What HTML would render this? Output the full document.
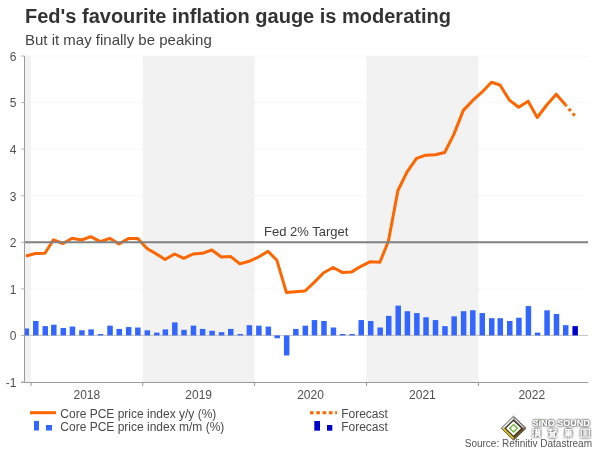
<!DOCTYPE html>
<html><head><meta charset="utf-8"><style>
html,body{margin:0;padding:0;background:#fff;}
.wrap{position:absolute;left:0;top:0;width:600px;height:450px;will-change:transform;}
body{width:600px;height:450px;overflow:hidden;position:relative;font-family:"Liberation Sans",sans-serif;}
.t{position:absolute;left:25px;top:5px;font-weight:bold;font-size:20px;color:#333;white-space:nowrap;}
.s{position:absolute;left:25px;top:31px;font-size:15px;color:#444;white-space:nowrap;}
svg{position:absolute;left:0;top:0;}
</style></head><body>
<div class="wrap">
<div class="t">Fed's favourite inflation gauge is moderating</div>
<div class="s">But it may finally be peaking</div>
<svg width="600" height="450" viewBox="0 0 600 450" font-family="Liberation Sans, sans-serif">
<defs><filter id="sh" x="-20%" y="-50%" width="140%" height="200%"><feGaussianBlur in="SourceAlpha" stdDeviation="0.9" result="b"/><feOffset in="b" dx="0.3" dy="0.4" result="o"/><feFlood flood-color="#3a3a3a" flood-opacity="1"/><feComposite in2="o" operator="in"/><feMerge><feMergeNode/><feMergeNode/><feMergeNode in="SourceGraphic"/></feMerge></filter></defs>
<rect x="25" y="56" width="6" height="326" fill="#f2f2f2"/>
<rect x="142.7" y="56" width="111.9" height="326" fill="#f2f2f2"/>
<rect x="366.5" y="56" width="111.9" height="326" fill="#f2f2f2"/>
<line x1="25" y1="56.00" x2="588" y2="56.00" stroke="#f0f0f0" stroke-width="1" stroke-dasharray="1 1"/><line x1="25" y1="102.57" x2="588" y2="102.57" stroke="#f0f0f0" stroke-width="1" stroke-dasharray="1 1"/><line x1="25" y1="149.14" x2="588" y2="149.14" stroke="#f0f0f0" stroke-width="1" stroke-dasharray="1 1"/><line x1="25" y1="195.71" x2="588" y2="195.71" stroke="#f0f0f0" stroke-width="1" stroke-dasharray="1 1"/><line x1="25" y1="288.86" x2="588" y2="288.86" stroke="#f0f0f0" stroke-width="1" stroke-dasharray="1 1"/>
<line x1="21" y1="335.43" x2="588" y2="335.43" stroke="#c8c4bc" stroke-width="1"/>
<g fill="#3366FF"><rect x="25.00" y="328.44" width="4.05" height="6.99"/><rect x="33.03" y="320.99" width="5.50" height="14.44"/><rect x="42.50" y="326.11" width="5.50" height="9.31"/><rect x="51.06" y="324.71" width="5.50" height="10.71"/><rect x="60.53" y="327.97" width="5.50" height="7.45"/><rect x="69.70" y="326.58" width="5.50" height="8.85"/><rect x="79.17" y="330.30" width="5.50" height="5.12"/><rect x="88.34" y="329.37" width="5.50" height="6.05"/><rect x="97.81" y="334.03" width="5.50" height="1.40"/><rect x="107.29" y="325.65" width="5.50" height="9.78"/><rect x="116.46" y="328.91" width="5.50" height="6.52"/><rect x="125.93" y="327.04" width="5.50" height="8.38"/><rect x="135.10" y="327.51" width="5.50" height="7.92"/><rect x="144.57" y="330.30" width="5.50" height="5.12"/><rect x="154.04" y="332.63" width="5.50" height="2.79"/><rect x="162.60" y="329.37" width="5.50" height="6.05"/><rect x="172.08" y="322.39" width="5.50" height="13.04"/><rect x="181.24" y="329.84" width="5.50" height="5.59"/><rect x="190.72" y="325.65" width="5.50" height="9.78"/><rect x="199.88" y="328.91" width="5.50" height="6.52"/><rect x="209.36" y="330.77" width="5.50" height="4.66"/><rect x="218.83" y="332.17" width="5.50" height="3.26"/><rect x="228.00" y="328.91" width="5.50" height="6.52"/><rect x="237.47" y="334.03" width="5.50" height="1.40"/><rect x="246.64" y="325.18" width="5.50" height="10.25"/><rect x="256.12" y="325.65" width="5.50" height="9.78"/><rect x="265.59" y="326.58" width="5.50" height="8.85"/><rect x="274.45" y="335.43" width="5.50" height="2.79"/><rect x="283.92" y="335.43" width="5.50" height="20.03"/><rect x="293.09" y="328.91" width="5.50" height="6.52"/><rect x="302.57" y="325.65" width="5.50" height="9.78"/><rect x="311.73" y="320.06" width="5.50" height="15.37"/><rect x="321.21" y="320.99" width="5.50" height="14.44"/><rect x="330.68" y="327.51" width="5.50" height="7.92"/><rect x="339.85" y="334.03" width="5.50" height="1.40"/><rect x="349.32" y="334.03" width="5.50" height="1.40"/><rect x="358.49" y="320.06" width="5.50" height="15.37"/><rect x="367.96" y="320.99" width="5.50" height="14.44"/><rect x="377.44" y="327.51" width="5.50" height="7.92"/><rect x="385.99" y="315.87" width="5.50" height="19.56"/><rect x="395.47" y="305.62" width="5.50" height="29.81"/><rect x="404.64" y="311.21" width="5.50" height="24.22"/><rect x="414.11" y="313.07" width="5.50" height="22.35"/><rect x="423.28" y="317.26" width="5.50" height="18.16"/><rect x="432.75" y="320.06" width="5.50" height="15.37"/><rect x="442.23" y="326.11" width="5.50" height="9.31"/><rect x="451.39" y="316.33" width="5.50" height="19.09"/><rect x="460.87" y="311.21" width="5.50" height="24.22"/><rect x="470.03" y="310.28" width="5.50" height="25.15"/><rect x="479.51" y="313.07" width="5.50" height="22.35"/><rect x="488.98" y="318.19" width="5.50" height="17.23"/><rect x="497.54" y="318.19" width="5.50" height="17.23"/><rect x="507.01" y="320.99" width="5.50" height="14.44"/><rect x="516.18" y="317.73" width="5.50" height="17.70"/><rect x="525.65" y="306.09" width="5.50" height="29.34"/><rect x="534.82" y="332.63" width="5.50" height="2.79"/><rect x="544.30" y="310.28" width="5.50" height="25.15"/><rect x="553.77" y="314.00" width="5.50" height="21.42"/><rect x="562.94" y="325.18" width="5.50" height="10.25"/></g>
<rect x="572.41" y="326.11" width="5.5" height="9.31" fill="#0000CC"/>
<path d="M26.00,256.00 L35.48,253.50 L44.95,253.30 L53.51,239.80 L62.98,243.50 L72.15,238.30 L81.62,240.00 L90.79,236.70 L100.26,241.70 L109.74,238.30 L118.91,244.00 L128.38,238.60 L137.55,238.40 L147.02,248.50 L156.49,254.00 L165.05,259.50 L174.53,254.00 L183.69,258.30 L193.17,254.00 L202.33,253.30 L211.81,250.00 L221.28,257.00 L230.45,256.40 L239.92,263.90 L249.09,261.30 L258.56,257.00 L268.04,251.30 L276.90,260.30 L286.37,292.40 L295.54,291.70 L305.02,291.00 L314.18,282.40 L323.66,272.70 L333.13,267.50 L342.30,272.40 L351.77,271.90 L360.94,266.30 L370.41,261.70 L379.89,262.30 L388.44,241.00 L397.92,190.50 L407.09,171.80 L416.56,158.30 L425.73,155.20 L435.20,154.70 L444.68,152.50 L453.84,134.40 L463.32,110.40 L472.48,100.70 L481.96,92.20 L491.43,82.20 L499.99,85.00 L509.46,100.10 L518.63,107.20 L528.10,101.20 L537.27,117.50 L546.75,105.00 L556.22,94.20 L565.39,104.70" fill="none" stroke="#FF6600" stroke-width="3" stroke-linejoin="round"/>
<path d="M565.39,104.70 L574.96,116.0" fill="none" stroke="#FF6600" stroke-width="3" stroke-dasharray="3 3.2" stroke-dashoffset="1.0"/>
<line x1="25" y1="242.28" x2="588" y2="242.28" stroke="#808080" stroke-width="2"/>
<text x="264" y="236" font-size="13" fill="#404040">Fed 2% Target</text>
<line x1="24.5" y1="56" x2="24.5" y2="382" stroke="#999" stroke-width="1"/>
<line x1="21" y1="382.5" x2="588" y2="382.5" stroke="#999" stroke-width="1"/>
<line x1="31" y1="382" x2="31" y2="386" stroke="#999" stroke-width="1"/><line x1="142.7" y1="382" x2="142.7" y2="386" stroke="#999" stroke-width="1"/><line x1="254.6" y1="382" x2="254.6" y2="386" stroke="#999" stroke-width="1"/><line x1="366.5" y1="382" x2="366.5" y2="386" stroke="#999" stroke-width="1"/><line x1="478.4" y1="382" x2="478.4" y2="386" stroke="#999" stroke-width="1"/>
<g font-size="12" fill="#505050"><text x="16.5" y="60.80" text-anchor="end">6</text><line x1="21" y1="56.00" x2="24.5" y2="56.00" stroke="#b4b4b4" stroke-width="1"/><text x="16.5" y="107.37" text-anchor="end">5</text><line x1="21" y1="102.57" x2="24.5" y2="102.57" stroke="#b4b4b4" stroke-width="1"/><text x="16.5" y="153.94" text-anchor="end">4</text><line x1="21" y1="149.14" x2="24.5" y2="149.14" stroke="#b4b4b4" stroke-width="1"/><text x="16.5" y="200.51" text-anchor="end">3</text><line x1="21" y1="195.71" x2="24.5" y2="195.71" stroke="#b4b4b4" stroke-width="1"/><text x="16.5" y="247.08" text-anchor="end">2</text><line x1="21" y1="242.28" x2="24.5" y2="242.28" stroke="#b4b4b4" stroke-width="1"/><text x="16.5" y="293.66" text-anchor="end">1</text><line x1="21" y1="288.86" x2="24.5" y2="288.86" stroke="#b4b4b4" stroke-width="1"/><text x="16.5" y="340.23" text-anchor="end">0</text><line x1="21" y1="335.43" x2="24.5" y2="335.43" stroke="#b4b4b4" stroke-width="1"/><text x="16.5" y="386.80" text-anchor="end">-1</text><line x1="21" y1="382.00" x2="24.5" y2="382.00" stroke="#b4b4b4" stroke-width="1"/></g>
<g font-size="12" fill="#505050"><text x="86.85" y="399" text-anchor="middle">2018</text><text x="198.65" y="399" text-anchor="middle">2019</text><text x="310.55" y="399" text-anchor="middle">2020</text><text x="422.45" y="399" text-anchor="middle">2021</text><text x="531.80" y="399" text-anchor="middle">2022</text></g>
<line x1="30" y1="412.7" x2="56" y2="412.7" stroke="#FF6600" stroke-width="3"/>
<rect x="34" y="421" width="5" height="9.5" fill="#3366FF"/>
<rect x="46" y="425" width="6" height="5.5" fill="#3366FF"/>
<text x="60.3" y="417.5" font-size="12" fill="#4a4a4a">Core PCE price index y/y (%)</text>
<text x="60.3" y="430.5" font-size="12" fill="#4a4a4a">Core PCE price index m/m (%)</text>
<line x1="310" y1="412.7" x2="337" y2="412.7" stroke="#FF6600" stroke-width="3" stroke-dasharray="3.6 2.7"/>
<rect x="314.3" y="421" width="5.7" height="9.7" fill="#0000CC"/>
<rect x="327" y="425" width="5.3" height="5.7" fill="#0000CC"/>
<text x="341.2" y="417.5" font-size="12" fill="#4a4a4a">Forecast</text>
<text x="341.2" y="430.5" font-size="12" fill="#4a4a4a">Forecast</text>
<g id="logo">
<polygon points="513.5,416.2 526.1,428.3 513.5,440.2 501.2,428.3" fill="#cfcfcf"/>
<polygon points="501.2,428.3 513.5,416.2 513.5,420.3 505.2,428.3" fill="#d4d4d4"/>
<polygon points="513.5,416.2 526.1,428.3 521.9,428.3 513.5,420.3" fill="#8c8c8c"/><line x1="514.5" y1="418.6" x2="523.3" y2="427.4" stroke="#f4f4f4" stroke-width="0.9"/><line x1="503.6" y1="427.4" x2="512.5" y2="418.6" stroke="#ffffff" stroke-width="0.9"/>
<polygon points="501.2,428.3 513.5,440.2 513.5,436.3 505.2,428.3" fill="#d6bf1e"/>
<polygon points="513.5,440.2 526.1,428.3 521.9,428.3 513.5,436.3" fill="#6b5420"/>
<polygon points="513.5,416.2 526.1,428.3 513.5,440.2 501.2,428.3" fill="none" stroke="#555" stroke-width="0.9"/>
<polygon points="513.5,420.3 521.9,428.3 513.5,436.3 505.2,428.3" fill="#fff" stroke="#2e2410" stroke-width="1.1"/>
<polygon points="513.6,424.4 517.5,428.2 513.6,432.1 509.7,428.2" fill="none" stroke="#72b83c" stroke-width="1.4" stroke-linejoin="round"/>
</g>
<g filter="url(#sh)">
<text x="532.6" y="426.4" font-size="9.6" font-weight="bold" fill="#fff" textLength="57.2" lengthAdjust="spacingAndGlyphs">SINO SOUND</text>
<g fill="none" stroke="#fff" stroke-width="1.05">
<g transform="translate(532.5,428.7)"><path d="M0.3,0.6 L1.5,1.6 M0,3 L1.3,4 M0.2,8.2 L1.5,5.8 M2.5,1 H8 M4,0 V2 M6.5,0 V2 M3.3,2.6 H7.3 V5 H3.3 Z M3.3,3.8 H7.3 M2.5,6.2 H8 M5.3,5 L2.7,8.4 M5.3,6.2 L8,8.4"/></g>
<g transform="translate(548.4,428.7)"><path d="M0,0.5 H4 M0,2.1 H4 M2,0 V3 M4.8,0.5 H7.8 V2.6 H4.8 M0.5,3.8 H7.8 M2,4.6 H6 V8 M2,4.6 V8 M2,5.8 H6 M2,7 H6 M0,8.2 H8"/></g>
<g transform="translate(564.3,428.7)"><path d="M1.5,0 V4.8 M1.5,0.8 H7.5 M1.5,2.2 H7.5 M1.5,3.5 H7.5 M1.5,4.8 H7.5 M4.5,0.8 V4.8 M0,6 H8 M4,4.8 V8.6 M4,6 L0.5,8.3 M4,6 L7.5,8.3"/></g>
<g transform="translate(580.7,428.7)"><path d="M0.5,0.5 H8.6 V8.2 H0.5 Z M2.2,2.3 H6.9 M2.2,4.2 H6.9 M2.2,6.2 H6.9 M4.5,1.5 V7"/></g>
</g>
</g>
<circle cx="539.6" cy="419.9" r="0.9" fill="#7ac143"/>
<text x="592" y="446.5" font-size="10" fill="#555" text-anchor="end">Source: Refinitiv Datastream</text>
</svg>
</div>
</body></html>
